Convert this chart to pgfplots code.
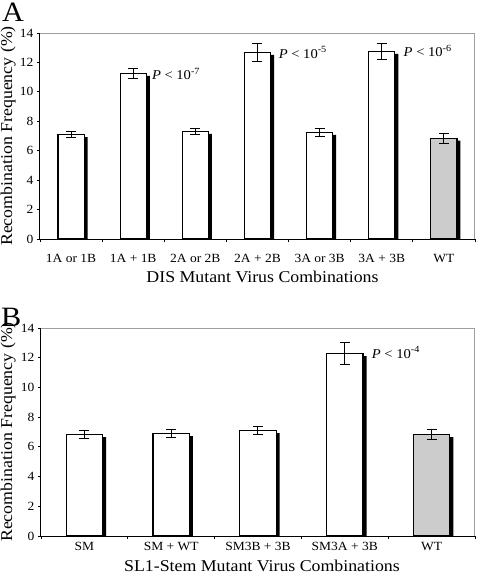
\documentclass[border=0pt]{standalone}
\usepackage{fontspec}
\setmainfont{Liberation Serif}[FakeStretch=1.08]
\usepackage{pgfplots}
\usepackage{pgfplotstable}
\pgfplotsset{compat=1.18}

\pgfplotstableread{
x y e
0 7.10 0.20
1 11.25 0.35
2 7.32 0.22
3 12.68 0.60
4 7.25 0.28
5 12.75 0.57
6 6.85 0.35
}\dataA

\pgfplotstableread{
x y e
0 6.82 0.25
1 6.90 0.25
2 7.10 0.25
3 12.27 0.74
4 6.83 0.36
}\dataB

\pgfplotsset{
  recbar/.style={
    scale only axis, ybar, bar width=0.42,
    ymin=0, ymax=14, ytick={0,2,...,14},
    axis line style={draw=gray!75, line width=1pt},
    tick pos=left, tick align=outside, major tick length=3pt,
    xtick style={draw=none},
    ytick style={draw=black, line width=0.8pt},
    tick label style={font=\fontsize{12.5}{14}\selectfont},
    /pgf/number format/assume math mode=true,
    label style={font=\fontsize{16.5}{18}\selectfont},
    ylabel={Recombination Frequency (\%)},
    clip mode=individual,
  },
  whitebar/.style={draw=black, line width=1.2pt, fill=#1, bar shift=0pt,
    error bars/.cd, y dir=both, y explicit,
    error bar style={line width=1pt, black},
    error mark options={rotate=90, mark size=5pt, line width=1pt, black}},
  shadowbar/.style={fill=black, draw=none, bar shift=3.5pt, y filter/.expression={y-0.17}},
}

\begin{document}
\begin{tikzpicture}
\path[use as bounding box] (0,0) rectangle (482pt,-574pt);

\node[anchor=north west, inner sep=0, font=\fontsize{28}{30}\selectfont] at (2pt,-3pt) {A};
\node[anchor=north west, inner sep=0, font=\fontsize{28}{30}\selectfont] at (1pt,-308pt) {B};

\begin{axis}[recbar,
  at={(40pt,-239pt)}, anchor=south west, width=435pt, height=206pt,
  xmin=-0.5, xmax=6.5,
  xtick={0,...,6},
  xticklabels={1A or 1B, 1A + 1B, 2A or 2B, 2A + 2B, 3A or 3B, 3A + 3B, WT},
  xticklabel style={yshift=-8.5pt},
  extra x ticks={-0.5,0.5,...,6.5}, extra x tick labels={},
  extra x tick style={xtick style={draw=black, line width=0.8pt}},
  xlabel={DIS Mutant Virus Combinations},
  xlabel style={at={(axis description cs:0.5,0)}, anchor=north, inner sep=0pt, yshift=-32pt, xshift=5pt},
  ylabel style={at={(axis description cs:-0.0552,0.5)}, anchor=south, inner sep=0pt},
]
\addplot[shadowbar] table[x=x,y=y] {\dataA};
\addplot[restrict x to domain=0:5, whitebar=white] table[x=x,y=y,y error=e] {\dataA};
\addplot[restrict x to domain=6:6, whitebar=gray!40] table[x=x,y=y,y error=e] {\dataA};
\draw[black, line width=1pt] (rel axis cs:0,1) -- (rel axis cs:0,0) -- (rel axis cs:1,0);
\node[anchor=base west, inner sep=0, font=\fontsize{13.5}{15}\selectfont] at (axis cs:1.30,10.83) {\textit{P} < 10\textsuperscript{-7}};
\node[anchor=base west, inner sep=0, font=\fontsize{13.5}{15}\selectfont] at (axis cs:3.34,12.3) {\textit{P} < 10\textsuperscript{-5}};
\node[anchor=base west, inner sep=0, font=\fontsize{13.5}{15}\selectfont] at (axis cs:5.35,12.37) {\textit{P} < 10\textsuperscript{-6}};
\end{axis}

\begin{axis}[recbar,
  at={(41pt,-536pt)}, anchor=south west, width=434pt, height=208pt,
  xmin=-0.5, xmax=4.5,
  xtick={0,...,4},
  xticklabels={SM, SM + WT, SM3B + 3B, SM3A + 3B, WT},
  extra x ticks={-0.5,0.5,...,4.5}, extra x tick labels={},
  extra x tick style={xtick style={draw=black, line width=0.8pt}},
  xlabel={SL1-Stem Mutant Virus Combinations},
  xlabel style={at={(axis description cs:0.5,0)}, anchor=north, inner sep=0pt, yshift=-24pt, xshift=4pt},
  ylabel style={at={(axis description cs:-0.0576,0.5)}, anchor=south, inner sep=0pt},
]
\addplot[shadowbar] table[x=x,y=y] {\dataB};
\addplot[restrict x to domain=0:3, whitebar=white] table[x=x,y=y,y error=e] {\dataB};
\addplot[restrict x to domain=4:4, whitebar=gray!40] table[x=x,y=y,y error=e] {\dataB};
\draw[black, line width=1pt] (rel axis cs:0,1) -- (rel axis cs:0,0) -- (rel axis cs:1,0);
\node[anchor=base west, inner sep=0, font=\fontsize{13.5}{15}\selectfont] at (axis cs:3.31,11.98) {\textit{P} < 10\textsuperscript{-4}};
\end{axis}
\end{tikzpicture}
\end{document}
